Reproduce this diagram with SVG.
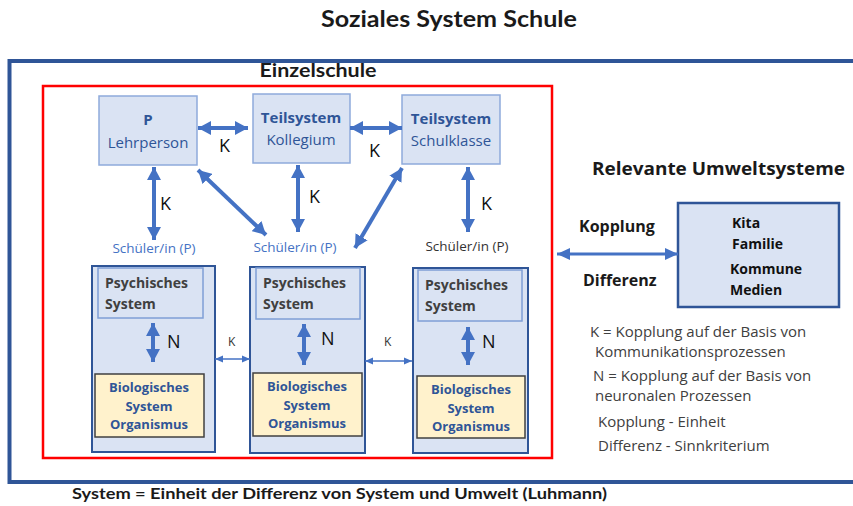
<svg xmlns="http://www.w3.org/2000/svg" width="853" height="506" viewBox="0 0 853 506">
<style>
.t{font-family:"Open Sans","Noto Sans",sans-serif}
.c{font-family:Lato,"Liberation Sans",sans-serif;font-weight:bold;fill:#1a1a1a}
.top{fill:#dae3f3;stroke:#8eaadb;stroke-width:1.5}
.big{fill:#dae3f3;stroke:#2f5597;stroke-width:2}
.psy{fill:#dae3f3;stroke:#7f9fd6;stroke-width:1.5}
.bio{fill:#fff2cc;stroke:#404040;stroke-width:1.5}
.tb{font-size:15px;fill:#2f5597;text-anchor:middle}
.ps{font-size:14px;font-weight:bold;fill:#404040}
.bi{font-size:13px;font-weight:bold;fill:#2f5597;text-anchor:middle}
.k{font-size:18px;fill:#111}
.ks{font-size:12px;fill:#333}
.sch{font-size:13.5px;text-anchor:middle}
.lg{font-size:15px;fill:#404040}
.env{font-size:14px;font-weight:bold;fill:#111}
.a{stroke:#4472c4;stroke-width:4;fill:none;marker-start:url(#h);marker-end:url(#h)}
.as{stroke:#4472c4;stroke-width:1.5;fill:none;marker-start:url(#hs);marker-end:url(#hs)}
.am{stroke:#4472c4;stroke-width:3;fill:none;marker-start:url(#hm);marker-end:url(#hm)}
</style>
<defs>
<marker id="h" markerUnits="userSpaceOnUse" markerWidth="14" markerHeight="14" viewBox="0 0 14 14" refX="13" refY="7" orient="auto-start-reverse"><path d="M0,0 L13,7 L0,14 Z" fill="#4472c4"/></marker>
<marker id="hs" markerUnits="userSpaceOnUse" markerWidth="8" markerHeight="8" viewBox="0 0 8 8" refX="8" refY="4" orient="auto-start-reverse"><path d="M0,0.5 L8,4 L0,7.5 Z" fill="#4472c4"/></marker>
<marker id="hm" markerUnits="userSpaceOnUse" markerWidth="13" markerHeight="12" viewBox="0 0 13 12" refX="13" refY="6" orient="auto-start-reverse"><path d="M0,0 L13,6 L0,12 Z" fill="#4472c4"/></marker>
</defs>
<rect width="853" height="506" fill="#ffffff"/>
<text class="c" x="449" y="27" font-size="22" text-anchor="middle" textLength="256" lengthAdjust="spacingAndGlyphs">Soziales System Schule</text>
<g id="soziales-system">
<rect x="9.5" y="61" width="852" height="421" fill="none" stroke="#2f5597" stroke-width="4"/>
</g>
<text class="c" x="318" y="77" font-size="18" text-anchor="middle" textLength="117" lengthAdjust="spacingAndGlyphs">Einzelschule</text>
<g id="einzelschule">
<rect x="43" y="86" width="509" height="372" fill="none" stroke="#ff0000" stroke-width="2.5"/>
</g>
<g id="lehrperson">
<rect class="top" x="99" y="96" width="98" height="69"/>
<text class="t tb" x="148" y="125" font-weight="bold">P</text>
<text class="t tb" x="148" y="148">Lehrperson</text>
</g>
<g id="kollegium">
<rect class="top" x="253" y="94" width="97" height="69"/>
<text class="t tb" x="301" y="123" font-weight="bold" font-size="14">Teilsystem</text>
<text class="t tb" x="301" y="145">Kollegium</text>
</g>
<g id="schulklasse">
<rect class="top" x="402" y="95" width="98" height="69"/>
<text class="t tb" x="451" y="124" font-weight="bold" font-size="14">Teilsystem</text>
<text class="t tb" x="451" y="146">Schulklasse</text>
</g>
<g id="schueler1">
<rect class="big" x="92" y="266" width="123" height="186"/>
<rect class="psy" x="98" y="268" width="105" height="50"/>
<text class="t ps" x="105" y="288">Psychisches</text>
<text class="t ps" x="105" y="309">System</text>
<rect class="bio" x="95" y="374" width="109" height="63"/>
<text class="t bi" x="149" y="392">Biologisches</text>
<text class="t bi" x="149" y="411">System</text>
<text class="t bi" x="149" y="429">Organismus</text>
<text class="t k" x="167" y="348">N</text>
</g>
<g id="schueler2">
<rect class="big" x="250" y="267" width="115" height="186"/>
<rect class="psy" x="256" y="268" width="104" height="51"/>
<text class="t ps" x="263" y="288">Psychisches</text>
<text class="t ps" x="263" y="309">System</text>
<rect class="bio" x="253" y="373" width="109" height="63"/>
<text class="t bi" x="307" y="391">Biologisches</text>
<text class="t bi" x="307" y="410">System</text>
<text class="t bi" x="307" y="428">Organismus</text>
<text class="t k" x="321" y="345">N</text>
</g>
<g id="schueler3">
<rect class="big" x="413" y="268" width="115" height="185"/>
<rect class="psy" x="418" y="270" width="104" height="51"/>
<text class="t ps" x="425" y="290">Psychisches</text>
<text class="t ps" x="425" y="311">System</text>
<rect class="bio" x="417" y="376" width="108" height="62"/>
<text class="t bi" x="471" y="394">Biologisches</text>
<text class="t bi" x="471" y="413">System</text>
<text class="t bi" x="471" y="431">Organismus</text>
<text class="t k" x="482" y="348">N</text>
</g>
<g id="umweltsysteme">
<rect x="678" y="203" width="161" height="104" fill="#dae3f3" stroke="#2f5597" stroke-width="2.5"/>
<text class="t env" x="732" y="228">Kita</text>
<text class="t env" x="732" y="249">Familie</text>
<text class="t env" x="730" y="274">Kommune</text>
<text class="t env" x="730" y="295">Medien</text>
</g>
<g id="labels">
<text class="t sch" x="154" y="253" fill="#4472c4">Schüler/in (P)</text>
<text class="t sch" x="295" y="252" fill="#4472c4">Schüler/in (P)</text>
<text class="t sch" x="467" y="251" fill="#333333">Schüler/in (P)</text>
<text class="t" x="592" y="175" font-size="18" font-weight="bold" fill="#1a1a1a" textLength="253" lengthAdjust="spacingAndGlyphs">Relevante Umweltsysteme</text>
<text class="t" x="579" y="232" font-size="16" font-weight="bold" fill="#1a1a1a">Kopplung</text>
<text class="t" x="583" y="286" font-size="16" font-weight="bold" fill="#1a1a1a">Differenz</text>
<text class="t lg" x="590" y="337">K = Kopplung auf der Basis von</text>
<text class="t lg" x="595" y="357">Kommunikationsprozessen</text>
<text class="t lg" x="593" y="381">N = Kopplung auf der Basis von</text>
<text class="t lg" x="595" y="401">neuronalen Prozessen</text>
<text class="t lg" x="598" y="427">Kopplung - Einheit</text>
<text class="t lg" x="598" y="451">Differenz - Sinnkriterium</text>
</g>
<g id="connectors">
<line class="a" x1="198" y1="128" x2="248" y2="128"/>
<line class="a" x1="350" y1="128" x2="402" y2="128"/>
<line class="a" x1="154" y1="167" x2="154" y2="240"/>
<line class="a" x1="198" y1="170" x2="266" y2="235"/>
<line class="a" x1="298" y1="165" x2="298" y2="232"/>
<line class="a" x1="402" y1="168" x2="355" y2="248"/>
<line class="a" x1="468" y1="167" x2="468" y2="232"/>
<line class="a" x1="153" y1="323" x2="153" y2="362"/>
<line class="a" x1="304" y1="324" x2="304" y2="365"/>
<line class="a" x1="468" y1="327" x2="468" y2="365"/>
<line class="as" x1="215" y1="359" x2="250" y2="359"/>
<line class="as" x1="365" y1="361" x2="412" y2="361"/>
<line class="am" x1="557" y1="254" x2="678" y2="254"/>
<text class="t k" x="219" y="152">K</text>
<text class="t k" x="369" y="157">K</text>
<text class="t k" x="160" y="210">K</text>
<text class="t k" x="309" y="203">K</text>
<text class="t k" x="481" y="210">K</text>
<text class="t ks" x="228" y="346">K</text>
<text class="t ks" x="384" y="346">K</text>
</g>
<text class="c" x="72" y="499" font-size="16" textLength="535" lengthAdjust="spacingAndGlyphs">System = Einheit der Differenz von System und Umwelt (Luhmann)</text>
</svg>
